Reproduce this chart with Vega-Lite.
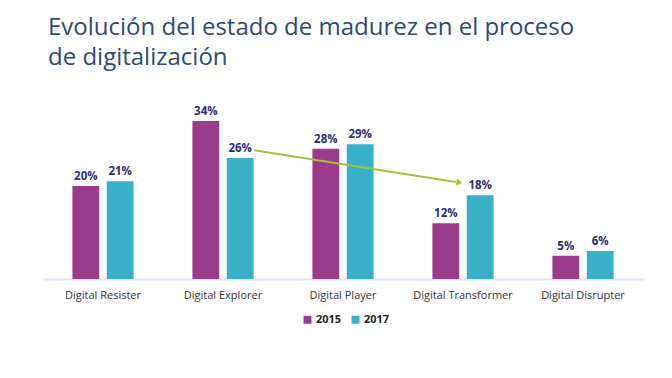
{
  "$schema": "https://vega.github.io/schema/vega-lite/v6.json",
  "width": 600,
  "height": 186,
  "padding": {"left": 43, "top": 16, "right": 29, "bottom": 10},
  "autosize": {"type": "pad"},
  "background": "white",
  "config": {"view": {"stroke": null}, "font": "Open Sans"},
  "title": {
    "text": ["Evolución del estado de madurez en el proceso", "de digitalización"],
    "anchor": "start",
    "frame": "group",
    "dx": 5,
    "fontSize": 24,
    "lineHeight": 30,
    "font": "Open Sans",
    "fontWeight": "normal",
    "color": "#2D4A78",
    "offset": 23
  },
  "datasets": {
    "bars": [
      {"stage": "Digital Resister", "year": "2015", "share": 0.20},
      {"stage": "Digital Resister", "year": "2017", "share": 0.21},
      {"stage": "Digital Explorer", "year": "2015", "share": 0.34},
      {"stage": "Digital Explorer", "year": "2017", "share": 0.26},
      {"stage": "Digital Player", "year": "2015", "share": 0.28},
      {"stage": "Digital Player", "year": "2017", "share": 0.29},
      {"stage": "Digital Transformer", "year": "2015", "share": 0.12},
      {"stage": "Digital Transformer", "year": "2017", "share": 0.18},
      {"stage": "Digital Disrupter", "year": "2015", "share": 0.05},
      {"stage": "Digital Disrupter", "year": "2017", "share": 0.06}
    ],
    "arrow": [
      {"pos": 1.758, "level": 0.277},
      {"pos": 3.44, "level": 0.2085}
    ],
    "head": [
      {"pos": 3.47, "level": 0.2075}
    ]
  },
  "layer": [
    {
      "data": {"name": "bars"},
      "encoding": {
        "x": {
          "field": "stage",
          "type": "nominal",
          "sort": null,
          "scale": {"paddingInner": 0.49, "paddingOuter": 0.245},
          "axis": {
            "title": null,
            "labelAngle": 0,
            "ticks": false,
            "labelPadding": 10,
            "labelFontSize": 11,
            "labelColor": "#333333",
            "labelFont": "Open Sans",
            "domainColor": "#E2E2F2",
            "domainWidth": 2
          }
        },
        "xOffset": {"field": "year", "type": "nominal", "scale": {"paddingInner": 0.22}},
        "y": {"field": "share", "type": "quantitative", "scale": {"domain": [0, 0.4], "nice": false}, "axis": null}
      },
      "layer": [
        {
          "mark": {"type": "bar"},
          "encoding": {
            "color": {
              "field": "year",
              "type": "nominal",
              "scale": {"range": ["#9B3B8C", "#39AFC8"]},
              "legend": {
                "orient": "none",
                "legendX": 259,
                "legendY": 221,
                "direction": "horizontal",
                "title": null,
                "symbolType": "square",
                "symbolSize": 64,
                "symbolStrokeWidth": 0,
                "labelFont": "Open Sans",
                "labelFontWeight": "bold",
                "labelFontSize": 11,
                "labelColor": "#222222",
                "columnPadding": 8,
                "labelOffset": 3
              }
            }
          }
        },
        {
          "mark": {"type": "text", "dy": -9, "fontWeight": "bold", "fontSize": 11.5, "color": "#2B2F7A", "font": "Open Sans"},
          "encoding": {"text": {"field": "share", "type": "quantitative", "format": ".0%"}}
        }
      ]
    },
    {
      "data": {"name": "arrow"},
      "mark": {"type": "line", "color": "#A3C43A", "strokeWidth": 2},
      "encoding": {
        "x": {"field": "pos", "type": "quantitative", "scale": {"domain": [0, 5], "nice": false, "zero": false}, "axis": null},
        "y": {"field": "level", "type": "quantitative", "scale": {"domain": [0, 0.4], "nice": false}, "axis": null}
      }
    },
    {
      "data": {"name": "head"},
      "mark": {"type": "point", "shape": "triangle-right", "filled": true, "opacity": 1, "color": "#A3C43A", "size": 50, "angle": 9},
      "encoding": {
        "x": {"field": "pos", "type": "quantitative", "scale": {"domain": [0, 5], "nice": false, "zero": false}, "axis": null},
        "y": {"field": "level", "type": "quantitative", "scale": {"domain": [0, 0.4], "nice": false}, "axis": null}
      }
    }
  ],
  "resolve": {"scale": {"x": "independent"}}
}
